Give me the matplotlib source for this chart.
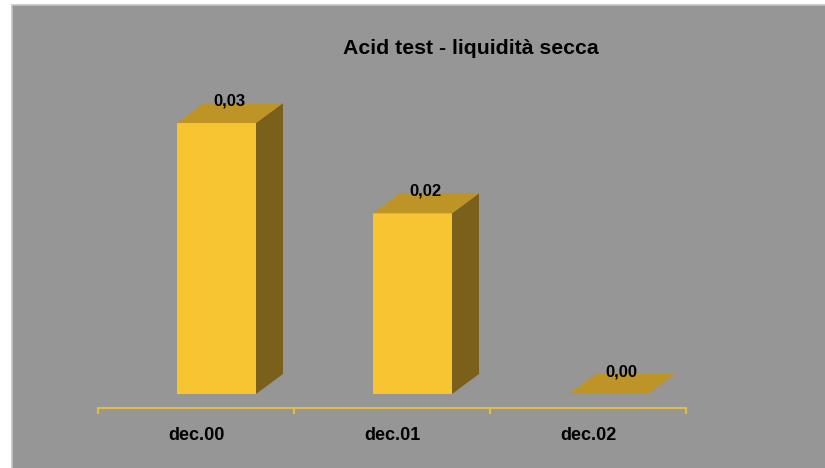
import matplotlib
matplotlib.use('agg')
import matplotlib.pyplot as plt
from matplotlib.patches import Polygon, Rectangle

# data
categories = ['dec.00', 'dec.01', 'dec.02']
values = [0.030, 0.020, 0.000]
value_labels = ['0,03', '0,02', '0,00']

plt.rcParams['font.family'] = ['Liberation Sans', 'DejaVu Sans']

front_color = '#F7C432'
top_color = '#BF9427'
side_color = '#7B601B'
axis_color = '#EFC03A'
bg_color = '#969696'

fig = plt.figure(figsize=(8.25, 4.68), dpi=100)
fig.patch.set_facecolor('white')

# gray chart area with a light border on top/left
bg = Rectangle((12 / 825, -0.05), 1.1, 463 / 468 + 0.05, transform=fig.transFigure,
               facecolor=bg_color, edgecolor='#c4c4c4', linewidth=1.2, zorder=-1)
fig.add_artist(bg)

ax = fig.add_axes([98 / 825, 60 / 468, 588 / 825, 368 / 468])
ax.set_zorder(1)
ax.set_facecolor('none')
ax.set_xlim(-0.5, 2.5)
y_px_per_unit = 9033.0
ymin = -14 / y_px_per_unit
ax.set_ylim(ymin, ymin + 368 / y_px_per_unit)

# 3d geometry (in data units)
bar_w = 79 / 196
shift = 20.5 / 196
dx = 27 / 196
dy = 20 / y_px_per_unit

for i, (v, lab) in enumerate(zip(values, value_labels)):
    x0 = i + shift - bar_w / 2
    x1 = x0 + bar_w
    if v > 0:
        ax.add_patch(Polygon([(x1, 0), (x1, v), (x1 + dx, v + dy), (x1 + dx, dy)],
                             closed=True, facecolor=side_color, edgecolor='none'))
        ax.add_patch(Rectangle((x0, 0), bar_w, v, facecolor=front_color, edgecolor='none'))
    ax.add_patch(Polygon([(x0, v), (x1, v), (x1 + dx, v + dy), (x0 + dx, v + dy)],
                         closed=True, facecolor=top_color, edgecolor='none'))
    ax.annotate(lab, (i + shift + dx / 2, v), xytext=(-1, 22), textcoords='offset pixels',
                ha='center', va='center', fontsize=12, fontweight='bold', color='black')

# category axis
for s in ['left', 'right', 'top']:
    ax.spines[s].set_visible(False)
ax.spines['bottom'].set_color(axis_color)
ax.spines['bottom'].set_linewidth(1.3)
ax.set_yticks([])
ax.set_xticks([-0.5, 0.5, 1.5, 2.5])
ax.set_xticklabels([])
ax.set_xticks([0, 1, 2], minor=True)
ax.set_xticklabels(categories, minor=True, fontsize=13, fontweight='bold')
ax.tick_params(axis='x', which='major', direction='out', length=4, width=1.3, color=axis_color)
ax.tick_params(axis='x', which='minor', length=0, pad=14)

fig.text(471 / 825, 1 - 49 / 468, 'Acid test - liquidità secca', ha='center', va='center',
         fontsize=15.3, fontweight='bold', color='black')

fig.savefig('out.png', dpi=100)
